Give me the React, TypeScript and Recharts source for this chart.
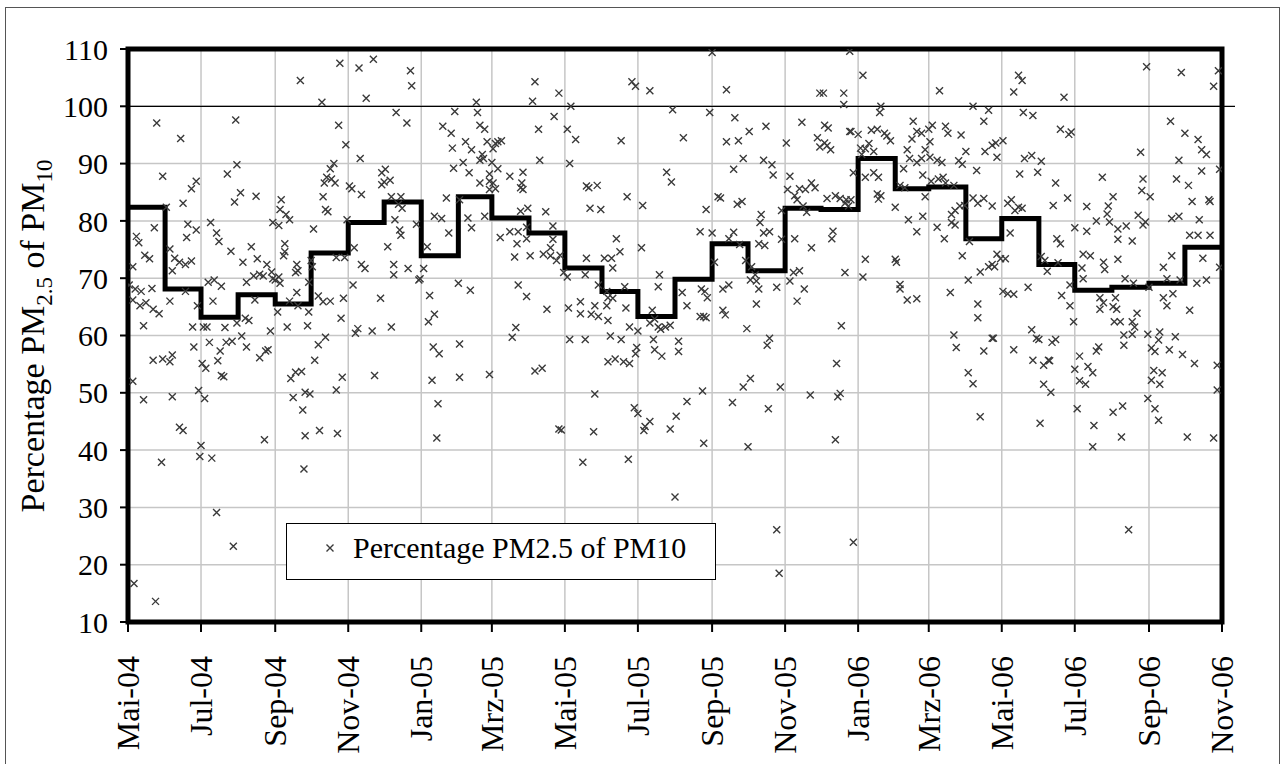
import React from 'react';
import {
  ComposedChart,
  Scatter,
  Line,
  XAxis,
  YAxis,
  CartesianGrid,
  ReferenceLine,
  ReferenceArea,
  Legend,
} from 'recharts';

// x values are days counted from 1 May 2004
const monthStarts = [
  0, 31, 61, 92, 123, 153, 184, 214, 245, 276, 304, 335, 365, 396, 426, 457,
  488, 518, 549, 579, 610, 641, 669, 700, 730, 761, 791, 822, 853, 883, 914,
];

// monthly mean share, May 2004 .. Oct 2006
const monthlyMeans = [
  82.4, 68.1, 63.2, 67.1, 65.5, 74.4, 79.7, 83.3, 73.9, 84.2, 80.5, 77.9, 71.8,
  67.7, 63.3, 69.8, 76.0, 71.3, 82.2, 82.0, 90.9, 85.6, 85.9, 76.9, 80.4, 72.4,
  67.9, 68.4, 69.1, 75.4,
];

const tickDays = [0, 61, 123, 184, 245, 304, 365, 426, 488, 549, 610, 669, 730, 791, 853, 914];
const tickLabels = [
  'Mai-04', 'Jul-04', 'Sep-04', 'Nov-04', 'Jan-05', 'Mrz-05', 'Mai-05', 'Jul-05',
  'Sep-05', 'Nov-05', 'Jan-06', 'Mrz-06', 'Mai-06', 'Jul-06', 'Sep-06', 'Nov-06',
];
const yTicks = [10, 20, 30, 40, 50, 60, 70, 80, 90, 100, 110];

// daily values [day, % PM2.5 of PM10]
const pts2004: [number, number][] = [
  [1,68.8],[4,72.0],[4,66.2],[4,52.0],[5,16.7],[6,68.1],[7,77.3],[9,76.2],[10,65.2],[11,67.7],[13,61.7],[13,48.8],
  [14,74.0],[15,65.7],[18,73.4],[20,68.2],[21,64.6],[21,55.7],[22,78.8],[23,13.6],[24,97.1],[26,63.8],[28,37.9],
  [29,87.8],[29,55.9],[32,82.4],[35,75.1],[35,66.0],[35,55.4],[37,71.3],[37,56.6],[37,49.3],[39,73.5],[43,72.8],
  [43,44.0],[44,94.4],[46,83.1],[46,43.4],[48,72.4],[48,67.7],[49,77.1],[50,79.4],[53,85.6],[53,73.0],[54,61.5],
  [55,58.0],[57,86.9],[57,78.4],[58,65.2],[59,50.4],[60,38.9],[61,40.8],[62,55.1],[63,61.5],[64,49.0],[65,54.3],
  [66,61.5],[67,69.3],[68,58.8],[69,79.7],[70,38.6],[71,66.0],[72,69.7],[74,77.9],[74,29.1],[75,55.6],[76,76.4],
  [77,57.3],[78,68.6],[78,53.0],[80,52.8],[81,61.4],[82,58.8],[83,88.2],[86,74.7],[87,59.0],[88,23.2],[89,83.3],
  [90,97.6],[91,89.8],[91,62.2],[94,84.9],[95,59.9],[96,72.8],[98,63.0],[99,69.3],[99,58.0],[101,62.6],[103,75.5],
  [105,70.4],[106,66.2],[107,84.3],[108,73.4],[110,70.7],[110,56.1],[113,70.4],[114,41.8],[115,57.3],[116,72.4],
  [117,57.5],[119,60.8],[120,71.1],[121,79.7],[121,69.9],[123,69.7],[125,64.1],[126,79.2],[126,70.2],[127,82.0],
  [127,69.1],[128,83.7],[130,73.9],[131,76.0],[131,74.6],[132,81.1],[133,61.5],[135,80.2],[135,66.0],[136,52.5],
  [138,49.2],[140,71.0],[140,53.6],[141,72.4],[141,67.5],[142,71.3],[142,65.2],[144,104.5],[145,53.7],[146,47.0],
  [147,36.7],[148,50.1],[148,42.5],[150,61.7],[151,69.3],[151,64.1],[152,49.8],[153,73.1],[154,72.0],[155,78.6],
  [156,55.7],[159,66.9],[159,58.4],[160,43.4],[162,100.7],[163,84.2],[163,65.9],[164,86.6],[165,82.0],[165,59.7],
  [166,87.6],[167,81.6],[169,89.1],[169,66.0],[170,87.3],[172,90.0],[173,86.6],[174,73.6],[174,50.5],[175,42.9],
  [176,96.7],[177,107.5],[178,63.0],[179,52.7],[180,66.5],[181,73.6],[182,93.3],[183,80.2],[185,86.1],[187,85.6],
  [188,68.8],[189,75.3],[190,60.4],[192,61.2],[193,106.7],[194,90.9],[195,84.6],[195,72.4],[198,71.7],[199,101.4],
  [204,60.8],[205,108.2],[206,53.0],[211,66.5],[212,88.4],[212,86.3],[214,86.8],[215,89.0],[217,75.5],[219,87.1],
  [220,84.2],[220,61.5],[222,72.4],[222,70.6],[223,80.2],[224,98.9],[226,82.9],[227,78.4],[228,84.2],[228,77.5],
  [229,82.2],[233,97.1],[234,71.7],[236,106.2],[237,103.6],[241,79.4],[243,69.7],[244,69.9],
];

const pts2005: [number, number][] = [
  [247,71.7],[250,75.5],[251,62.4],[252,67.0],[254,52.2],[255,58.0],[256,80.8],[256,63.7],[258,42.1],[259,48.1],
  [260,56.8],[262,80.4],[263,96.5],[266,84.0],[268,77.9],[270,95.3],[271,92.7],[272,89.2],[273,99.1],[276,69.1],
  [277,83.7],[277,58.5],[277,52.7],[280,90.2],[282,93.8],[284,80.5],[285,88.4],[286,67.9],[287,92.4],[287,78.8],
  [291,100.7],[292,98.9],[294,96.7],[294,90.6],[294,86.6],[296,91.6],[297,90.9],[298,96.0],[298,80.8],[300,93.8],
  [302,88.2],[302,86.9],[302,85.5],[302,53.2],[304,90.2],[305,92.6],[305,86.6],[307,93.5],[307,85.6],[309,93.8],
  [309,89.1],[311,77.1],[312,94.0],[319,87.8],[319,78.1],[321,59.7],[323,73.7],[324,61.4],[325,76.0],[326,78.1],
  [326,68.8],[328,85.8],[328,81.7],[329,86.6],[330,88.5],[330,85.5],[333,78.9],[333,76.9],[333,66.8],[334,82.2],
  [336,73.9],[338,100.9],[340,104.3],[340,53.8],[343,96.0],[344,90.6],[346,54.3],[347,74.2],[349,81.6],[350,64.6],
  [353,73.9],[353,75.3],[355,79.1],[355,76.8],[356,98.2],[358,73.1],[360,102.3],[360,43.7],[361,74.0],[362,43.5],
  [364,71.0],[367,96.0],[367,70.2],[368,64.8],[369,90.0],[369,59.3],[370,100.0],[374,94.2],[378,65.9],[378,63.8],
  [380,37.9],[382,70.6],[382,59.3],[383,86.1],[383,73.5],[385,85.8],[386,82.2],[387,63.7],[389,43.2],[390,65.2],
  [390,49.8],[392,86.2],[393,68.8],[393,63.3],[395,82.0],[398,73.5],[400,67.7],[400,65.2],[401,66.6],[401,62.6],
  [401,55.4],[403,59.9],[404,73.5],[405,71.8],[405,66.5],[407,55.9],[408,76.9],[411,74.6],[412,94.0],[412,59.3],
  [414,55.4],[415,68.5],[416,64.8],[417,84.2],[418,38.4],[419,61.5],[419,55.1],[421,104.3],[423,47.4],[424,103.5],
  [424,56.8],[425,57.9],[426,60.8],[426,46.4],[429,75.3],[430,82.7],[431,43.4],[432,44.1],[436,102.7],[436,62.2],
  [436,45.0],[438,64.4],[439,59.3],[440,62.9],[440,57.5],[443,68.5],[443,61.5],[444,70.6],[445,61.1],[446,56.4],
  [449,61.5],[450,88.5],[453,61.8],[453,43.7],[454,86.8],[455,99.4],[457,31.8],[458,45.9],[460,59.0],[460,57.2],
  [463,67.5],[464,94.5],[467,65.2],[467,48.5],[478,78.1],[478,63.3],[479,68.1],[480,50.3],[481,63.3],[481,41.2],
  [482,67.7],[483,82.0],[483,63.1],[484,66.6],[486,98.9],[488,109.4],[488,77.9],[490,72.8],[493,84.2],[495,84.0],
  [497,68.1],[497,64.4],[499,63.6],[500,102.9],[500,93.8],[502,76.9],[502,68.8],[505,48.3],[506,89.0],[506,78.0],
  [507,98.0],[509,82.9],[510,94.0],[511,75.9],[513,83.4],[514,90.9],[514,51.0],[516,73.1],[517,61.2],[518,40.6],
  [519,95.6],[520,69.7],[520,52.5],[521,72.0],[524,70.6],[525,69.5],[525,65.5],[527,76.0],[527,68.1],[528,79.7],
  [529,81.1],[531,90.6],[531,77.9],[532,75.7],[533,96.5],[534,58.3],[535,47.2],[536,78.1],[536,59.5],[538,89.8],
  [539,88.0],[542,68.4],[542,26.1],[544,18.5],[545,51.0],[546,81.8],[546,76.8],[550,93.6],[551,85.5],[553,87.8],
  [553,69.5],[556,71.0],[557,84.4],[557,76.9],[559,83.7],[559,66.0],[561,85.6],[561,71.3],[563,97.2],[564,82.6],
  [565,68.1],[566,85.5],[567,81.5],[570,49.6],[571,86.6],[571,75.3],[574,85.8],[576,94.5],[578,102.3],[578,92.9],
  [581,102.3],[582,96.7],[582,93.6],[584,93.1],[584,83.9],[585,96.2],[587,92.4],[588,76.9],[589,78.2],[591,84.4],
  [591,41.8],[592,55.1],[593,49.3],[595,83.9],[595,49.9],[596,61.7],[598,102.3],[598,100.3],[599,83.1],[599,71.0],
  [600,83.7],[602,82.6],[603,109.6],[603,95.6],[604,95.6],[604,83.7],[606,88.4],[606,23.9],
];

const pts2006: [number, number][] = [
  [610,95.1],[612,92.7],[613,91.6],[614,105.4],[614,70.2],[616,92.6],[616,87.6],[616,73.3],[619,93.5],[621,95.8],
  [623,92.1],[623,88.4],[626,96.0],[626,84.7],[627,87.6],[627,83.8],[628,98.9],[629,100.0],[629,84.4],[632,95.3],
  [634,94.8],[637,94.0],[641,82.4],[641,73.3],[642,72.8],[645,86.2],[645,68.9],[645,68.1],[648,89.1],[649,85.8],
  [651,92.4],[651,66.2],[652,80.2],[653,90.9],[655,94.3],[656,97.4],[659,95.6],[659,90.2],[659,78.1],[659,66.4],
  [663,95.3],[663,90.9],[664,88.0],[664,80.8],[666,92.4],[666,84.2],[669,96.0],[670,93.8],[670,91.1],[671,86.9],
  [672,96.7],[676,90.6],[676,78.9],[677,87.3],[678,102.7],[680,90.2],[681,87.6],[682,76.9],[683,96.5],[683,86.6],
  [685,95.3],[687,67.5],[688,81.1],[688,79.7],[690,86.2],[690,60.1],[691,81.8],[691,79.3],[692,57.9],[694,90.5],
  [695,82.6],[696,95.0],[697,89.9],[697,73.9],[699,82.7],[700,92.1],[702,69.7],[702,53.5],[703,76.4],[706,100.0],
  [706,84.0],[706,51.6],[709,88.8],[710,83.1],[710,65.5],[710,63.1],[712,71.1],[712,45.8],[715,97.4],[715,83.9],
  [715,57.3],[716,92.1],[719,99.3],[719,72.0],[722,93.2],[722,82.6],[722,72.4],[722,59.5],[723,59.5],[724,72.0],
  [725,93.6],[726,91.1],[726,74.2],[729,73.4],[731,94.0],[731,67.7],[733,73.4],[735,83.1],[735,67.3],[737,77.9],
  [738,83.7],[740,102.5],[740,67.2],[740,57.5],[741,81.8],[744,105.4],[744,82.4],[745,88.2],[747,104.5],[747,82.2],
  [748,98.9],[749,90.9],[752,68.4],[755,91.4],[755,61.0],[756,98.4],[756,55.7],[759,59.5],[760,88.5],[761,59.3],
  [762,44.7],[763,90.4],[763,73.8],[765,54.8],[765,51.5],[766,73.1],[768,71.2],[769,55.7],[770,55.6],[771,50.1],
  [772,58.8],[773,82.7],[775,86.6],[775,59.3],[776,76.9],[777,72.7],[779,96.0],[779,76.0],[780,67.0],[782,101.6],
  [785,84.0],[786,95.1],[787,68.8],[787,65.2],[788,95.5],[790,62.4],[791,78.8],[791,54.1],[793,47.2],[795,56.4],
  [795,52.1],[797,71.8],[798,74.2],[798,69.9],[800,51.5],[801,82.5],[801,78.2],[802,54.6],[804,73.9],[806,53.5],
  [806,40.6],[807,44.3],[809,80.0],[809,57.3],[811,58.0],[812,66.6],[812,64.6],[814,87.6],[815,72.8],[815,65.7],
  [816,71.5],[818,81.2],[819,82.6],[820,79.8],[823,84.2],[823,65.0],[823,46.6],[824,62.4],[825,66.6],[826,64.6],
  [827,76.8],[827,78.6],[827,73.3],[829,62.4],[830,42.3],[831,47.7],[832,60.1],[832,58.3],[833,69.9],[834,79.1],
  [836,26.1],[839,76.5],[839,62.4],[839,60.2],[840,69.1],[841,61.5],[843,63.9],[844,81.0],[846,92.0],[847,85.3],
  [848,87.3],[848,79.3],[850,79.8],[851,106.9],[852,60.2],[852,49.0],[853,68.4],[854,84.2],[855,57.8],[855,52.2],
  [857,53.9],[858,57.2],[858,47.2],[861,59.2],[861,45.2],[862,60.6],[862,51.5],[864,53.5],[865,71.9],[865,66.6],
  [868,69.9],[868,65.2],[870,57.5],[871,97.4],[872,80.4],[872,73.9],[873,67.3],[875,59.8],[876,87.3],[878,90.6],
  [878,80.8],[879,69.7],[880,105.9],[881,56.7],[883,95.3],[885,42.3],[886,86.2],[887,77.5],[887,64.4],[889,83.4],
  [891,55.1],[893,69.1],[894,94.2],[894,77.5],[895,80.2],[897,92.4],[897,88.7],[898,73.5],[901,91.6],[901,69.7],
  [903,83.7],[904,83.4],[904,77.5],[907,103.5],[907,42.1],[910,54.8],[910,50.5],[911,106.2],[912,89.0],[912,71.9],
];

const scatterData = [...pts2004, ...pts2005, ...pts2006].map(([day, pct]) => ({ day, pct }));
// step line holds each month's mean until the next month starts
const stepData = monthStarts.map((day, i) => ({
  day,
  mean: monthlyMeans[Math.min(i, monthlyMeans.length - 1)],
}));

const FONT = '"Liberation Serif", "Times New Roman", serif';
const MARK = '#3a3a3a';

const Cross = (props: any) => {
  const { cx, cy } = props;
  if (cx == null || cy == null) return null;
  const r = 3.5;
  return (
    <path
      d={`M${cx - r},${cy - r}L${cx + r},${cy + r}M${cx + r},${cy - r}L${cx - r},${cy + r}`}
      stroke={MARK}
      strokeWidth={1.4}
      fill="none"
    />
  );
};

const MonthTick = (props: any) => {
  const { x, y, payload } = props;
  const label = tickLabels[tickDays.indexOf(payload.value)];
  return (
    <text
      x={x}
      y={y}
      dy="0.35em"
      transform={`rotate(-90, ${x}, ${y})`}
      textAnchor="end"
      fontFamily={FONT}
      fontSize={32}
      fill="#000"
    >
      {label}
    </text>
  );
};

const YTitle = () => (
  <text
    x={44}
    y={336}
    transform="rotate(-90, 44, 336)"
    textAnchor="middle"
    fontFamily={FONT}
    fontSize={34}
    fill="#000"
  >
    Percentage PM
    <tspan fontSize={23} dy={8}>2.5</tspan>
    <tspan dy={-8}> of PM</tspan>
    <tspan fontSize={23} dy={8}>10</tspan>
  </text>
);

const LegendBox = () => (
  <div
    style={{
      position: 'relative',
      width: 430,
      height: 57,
      boxSizing: 'border-box',
      border: '1.5px solid #000',
      background: '#fff',
      fontFamily: FONT,
      fontSize: 30,
      color: '#000',
    }}
  >
    <svg width={14} height={14} style={{ position: 'absolute', left: 36, top: 17 }}>
      <path d="M3.5,3.5L10.5,10.5M10.5,3.5L3.5,10.5" stroke={MARK} strokeWidth={1.4} fill="none" />
    </svg>
    <span style={{ position: 'absolute', left: 66, top: 4, lineHeight: '40px', whiteSpace: 'nowrap' }}>
      Percentage PM2.5 of PM10
    </span>
  </div>
);

export default function App() {
  return (
    <div
      style={{
        position: 'absolute',
        left: 0,
        top: 0,
        width: 1283,
        height: 764,
        overflow: 'hidden',
        background: '#fff',
      }}
    >
      <div
        style={{
          position: 'absolute',
          left: 5,
          top: 7,
          width: 1275,
          height: 800,
          border: '1.5px solid #555',
          boxSizing: 'border-box',
        }}
      />
      <ComposedChart
        width={1283}
        height={764}
        margin={{ top: 49, right: 61, bottom: 0, left: 20 }}
      >
        <CartesianGrid stroke="#c6c6c6" strokeWidth={1.5} />
        <XAxis
          dataKey="day"
          type="number"
          domain={[0, 914]}
          ticks={tickDays}
          interval={0}
          height={142}
          tick={<MonthTick />}
          tickSize={10}
          tickMargin={24}
          axisLine={false}
          tickLine={{ stroke: '#000', strokeWidth: 2 }}
          allowDataOverflow
        />
        <YAxis
          type="number"
          domain={[10, 110]}
          ticks={yTicks}
          interval={0}
          width={108}
          tickSize={8}
          tickMargin={12}
          axisLine={false}
          tickLine={{ stroke: '#000', strokeWidth: 2 }}
          tick={{ fontSize: 30, fontFamily: FONT, fill: '#000' }}
          label={<YTitle />}
          allowDataOverflow
        />
        <ReferenceLine
          y={100}
          stroke="#000"
          strokeWidth={1.3}
          shape={(p: any) => (
            <line x1={p.x1} y1={p.y1} x2={p.x2 + 13} y2={p.y2} stroke="#000" strokeWidth={1.3} />
          )}
        />
        <Scatter data={scatterData} dataKey="pct" shape={<Cross />} isAnimationActive={false} />
        <Line
          data={stepData}
          dataKey="mean"
          type="stepAfter"
          stroke="#000"
          strokeWidth={5}
          dot={false}
          activeDot={false}
          isAnimationActive={false}
        />
        <ReferenceArea x1={0} x2={914} y1={10} y2={110} fill="none" stroke="#000" strokeWidth={5} />
        <Legend
          layout="horizontal"
          verticalAlign="middle"
          align="center"
          wrapperStyle={{ position: 'absolute', left: 286, top: 523, width: 430, height: 57, margin: 0 }}
          content={() => <LegendBox />}
        />
      </ComposedChart>
    </div>
  );
}
